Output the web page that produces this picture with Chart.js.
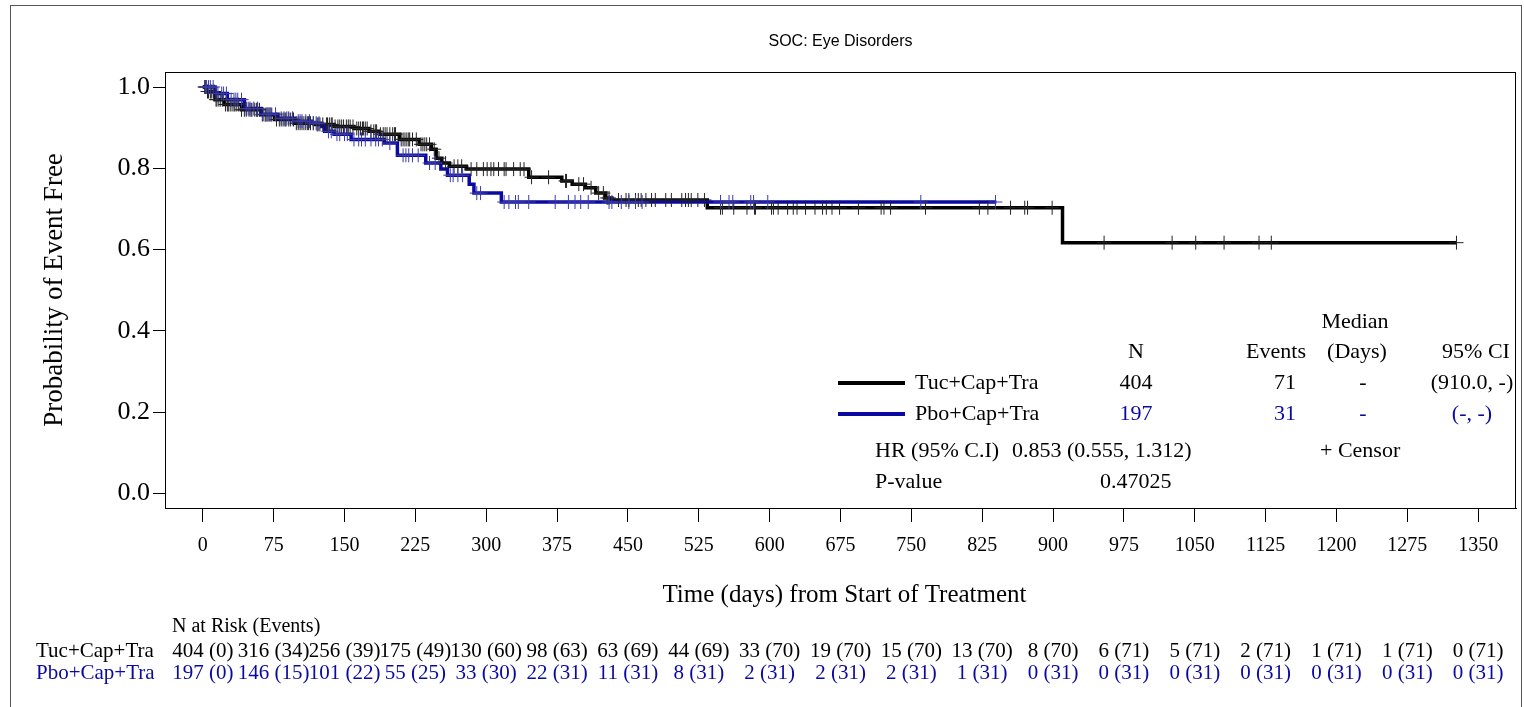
<!DOCTYPE html>
<html>
<head>
<meta charset="utf-8">
<script src="https://cdn.jsdelivr.net/npm/chart.js@4.4.0/dist/chart.umd.min.js"></script>
<style>
  html, body { margin: 0; padding: 0; background: #fff; }
</style>
</head>
<body>
<canvas id="km" width="1524" height="707"></canvas>
<script>
'use strict';

// axis ticks
const xTicks = [0, 75, 150, 225, 300, 375, 450, 525, 600, 675, 750, 825, 900, 975, 1050, 1125, 1200, 1275, 1350];
const yTicks = [0, 0.2, 0.4, 0.6, 0.8, 1.0];

const armNames = ['Tuc+Cap+Tra', 'Pbo+Cap+Tra'];

// Tuc+Cap+Tra KM curve (day, survival after step)
const tucTime = [0, 4, 13, 23, 41, 62, 76, 97, 118, 139, 160, 176, 187, 208, 229, 242, 247, 253, 261, 279, 345, 380, 391, 405, 416, 426, 433, 534, 910, 1327];
const tucSurv = [1.0, 0.989, 0.969, 0.957, 0.944, 0.932, 0.920, 0.911, 0.908, 0.903, 0.898, 0.891, 0.884, 0.871, 0.859, 0.847, 0.825, 0.813, 0.805, 0.798, 0.778, 0.769, 0.761, 0.752, 0.739, 0.727, 0.722, 0.703, 0.617, 0.617];
// Pbo+Cap+Tra KM curve
const pboTime = [0, 13, 26, 44, 62, 79, 97, 115, 126, 129, 139, 157, 192, 206, 236, 252, 259, 282, 287, 316, 840];
const pboSurv = [1.0, 0.984, 0.969, 0.947, 0.933, 0.923, 0.916, 0.911, 0.903, 0.891, 0.884, 0.871, 0.862, 0.832, 0.813, 0.798, 0.783, 0.761, 0.739, 0.717, 0.717];

// censored times
const tucCensor = [2, 3, 5, 6, 8, 9, 11, 12, 14, 15, 17, 19, 21, 24, 26, 27, 29, 31, 33, 34, 36, 38, 41, 44, 46, 49, 51, 52, 55, 57, 58, 60, 63, 66, 67, 69, 71, 73, 78, 81, 83, 85, 87, 88, 91, 93, 96, 99, 101, 103, 105, 107, 109, 111, 112, 114, 117, 121, 122, 124, 127, 131, 132, 134, 136, 137, 140, 143, 145, 147, 149, 152, 154, 156, 159, 163, 165, 167, 169, 170, 172, 174, 178, 181, 183, 184, 188, 191, 193, 195, 198, 201, 203, 204, 210, 212, 214, 216, 218, 219, 222, 226, 231, 233, 235, 237, 240, 245, 250, 257, 266, 270, 274,
  284, 290, 297, 301, 305, 308, 313, 319, 321, 329, 336, 340, 348, 366, 384, 385, 398, 403, 411, 419, 424, 428, 430, 440, 448, 451, 458, 461, 464, 469, 475, 479, 490, 496, 507, 511, 514, 517, 524, 531,
  548, 550, 562, 576, 584, 585, 602, 604, 609, 619, 625, 629, 638, 648, 656, 660, 666, 674, 694, 718, 721, 728, 765, 822, 831, 855, 870, 873, 899, 954, 1026, 1051, 1081, 1118, 1131, 1327];
const pboCensor = [3, 4, 6, 8, 11, 14, 16, 20, 22, 25, 30, 33, 35, 37, 41, 46, 48, 50, 54, 58, 64, 68, 70, 72, 77, 83, 86, 89, 91, 95, 101, 103, 105, 109, 113, 117, 120, 123, 133, 136, 142, 145, 150, 153, 160, 165, 168, 172, 178, 183, 186, 190, 198, 212, 215, 218, 222, 228, 240, 246, 262, 265, 270, 275, 290, 294,
  319, 324, 331, 334, 345, 373, 387, 394, 400, 408, 430, 433, 443, 451, 458, 465, 548, 557, 561, 580, 583, 598, 760, 839];

// summary table
const armN = [404, 197];
const armEvents = [71, 31];
const armMedian = ['-', '-'];
const armCI = ['(910.0, -)', '(-, -)'];
const hrText = '0.853 (0.555, 1.312)';
const pValue = '0.47025';

// number at risk (events) at each x tick
const tucRisk = [404, 316, 256, 175, 130, 98, 63, 44, 33, 19, 15, 13, 8, 6, 5, 2, 1, 1, 0];
const tucRiskEv = [0, 34, 39, 49, 60, 63, 69, 69, 70, 70, 70, 70, 70, 71, 71, 71, 71, 71, 71];
const pboRisk = [197, 146, 101, 55, 33, 22, 11, 8, 2, 2, 2, 1, 0, 0, 0, 0, 0, 0, 0];
const pboRiskEv = [0, 15, 22, 25, 30, 31, 31, 31, 31, 31, 31, 31, 31, 31, 31, 31, 31, 31, 31];

const BLACK = '#000000';
const BLUE = '#0a0aa0';
const SERIF = '"Liberation Serif", "Times New Roman", serif';
const SANS = '"Liberation Sans", Arial, sans-serif';

function survAt(times, survs, t) {
  let s = survs[0];
  for (let i = 0; i < times.length; i++) {
    if (times[i] <= t) s = survs[i];
  }
  return s;
}

function toPoints(times, survs) {
  return times.map((t, i) => ({x: t, y: survs[i]}));
}

function censorPoints(list, times, survs) {
  return list.map(t => ({x: t, y: survAt(times, survs, t)}));
}

function txt(ctx, s, x, y, align, size, color, family) {
  ctx.font = size + 'px ' + (family || SERIF);
  ctx.fillStyle = color || BLACK;
  ctx.textAlign = align;
  ctx.textBaseline = 'middle';
  ctx.fillText(s, x, y);
}

const decor = {
  id: 'decor',
  afterDraw(chart) {
    const ctx = chart.ctx;
    const a = chart.chartArea;
    const xs = chart.scales.x;
    ctx.save();

    // outer frame and plot box
    ctx.strokeStyle = '#555';
    ctx.lineWidth = 1;
    ctx.strokeRect(10.5, 5.5, 1511, 720);
    ctx.strokeStyle = BLACK;
    ctx.strokeRect(a.left + 0.5, a.top + 0.5, a.right - a.left - 1, a.bottom - a.top);

    const mid = (a.left + a.right) / 2;
    txt(ctx, 'SOC: Eye Disorders', mid, 42, 'center', 16, BLACK, SANS);

    // axis titles
    txt(ctx, 'Time (days) from Start of Treatment', mid + 4, 595, 'center', 25);
    ctx.save();
    ctx.translate(55, (a.top + a.bottom) / 2);
    ctx.rotate(-Math.PI / 2);
    txt(ctx, 'Probability of Event Free', 0, 0, 'center', 27);
    ctx.restore();

    // summary table in the plot
    const fs = 22;
    txt(ctx, 'Median', 1355, 322, 'center', fs);
    txt(ctx, 'N', 1136, 352, 'center', fs);
    txt(ctx, 'Events', 1276, 352, 'center', fs);
    txt(ctx, '(Days)', 1357, 352, 'center', fs);
    txt(ctx, '95% CI', 1476, 352, 'center', fs);
    const rowY = [383, 414];
    const colors = [BLACK, BLUE];
    for (let i = 0; i < 2; i++) {
      ctx.strokeStyle = colors[i];
      ctx.lineWidth = 4;
      ctx.beginPath();
      ctx.moveTo(838, rowY[i]);
      ctx.lineTo(905, rowY[i]);
      ctx.stroke();
      txt(ctx, armNames[i], 915, rowY[i], 'left', fs);
      txt(ctx, String(armN[i]), 1136, rowY[i], 'center', fs, colors[i]);
      txt(ctx, String(armEvents[i]), 1285, rowY[i], 'center', fs, colors[i]);
      txt(ctx, armMedian[i], 1363, rowY[i], 'center', fs, colors[i]);
      txt(ctx, armCI[i], 1472, rowY[i], 'center', fs, colors[i]);
    }
    txt(ctx, 'HR (95% C.I)', 875, 451, 'left', fs);
    txt(ctx, hrText, 1012, 451, 'left', fs);
    txt(ctx, '+ Censor', 1320, 451, 'left', fs);
    txt(ctx, 'P-value', 875, 482, 'left', fs);
    txt(ctx, pValue, 1100, 482, 'left', fs);

    // number at risk table
    txt(ctx, 'N at Risk (Events)', 172, 627, 'left', 20);
    txt(ctx, armNames[0], 36, 651, 'left', 21);
    txt(ctx, armNames[1], 36, 673, 'left', 21, BLUE);
    xTicks.forEach((t, i) => {
      const px = xs.getPixelForValue(t);
      txt(ctx, tucRisk[i] + ' (' + tucRiskEv[i] + ')', px, 651, 'center', 21);
      txt(ctx, pboRisk[i] + ' (' + pboRiskEv[i] + ')', px, 673, 'center', 21, BLUE);
    });
    ctx.restore();
  }
};

new Chart(document.getElementById('km').getContext('2d'), {
  type: 'line',
  data: {
    datasets: [{
      label: armNames[0],
      data: toPoints(tucTime, tucSurv),
      stepped: true,
      borderColor: BLACK,
      borderWidth: 3.5,
      pointRadius: 0,
      fill: false,
      order: 3
    }, {
      label: armNames[1],
      data: toPoints(pboTime, pboSurv),
      stepped: true,
      borderColor: BLUE,
      borderWidth: 3.5,
      pointRadius: 0,
      fill: false,
      order: 2
    }, {
      label: 'censor1',
      data: censorPoints(tucCensor, tucTime, tucSurv),
      showLine: false,
      pointStyle: 'cross',
      pointRadius: 7,
      pointBorderWidth: 1,
      pointBorderColor: '#222',
      order: 1
    }, {
      label: 'censor2',
      data: censorPoints(pboCensor, pboTime, pboSurv),
      showLine: false,
      pointStyle: 'cross',
      pointRadius: 7,
      pointBorderWidth: 1,
      pointBorderColor: '#3a3aaa',
      order: 0
    }]
  },
  options: {
    responsive: false,
    animation: false,
    layout: { padding: { left: 0, right: 4, top: 72, bottom: 139 } },
    plugins: { legend: { display: false }, tooltip: { enabled: false } },
    scales: {
      x: {
        type: 'linear',
        min: -40,
        max: 1390,
        afterBuildTicks: s => { s.ticks = xTicks.map(v => ({value: v})); },
        afterFit: s => { s.height = 60; },
        grid: { drawOnChartArea: false, drawTicks: true, tickLength: 14, color: BLACK },
        border: { display: true, color: BLACK },
        ticks: {
          padding: 12, color: BLACK, maxRotation: 0, autoSkip: false,
          font: { family: SERIF, size: 20 },
          callback: v => String(v)
        }
      },
      y: {
        type: 'linear',
        min: -0.036,
        max: 1.037,
        afterBuildTicks: s => { s.ticks = yTicks.map(v => ({value: v})); },
        afterFit: s => { s.width = 165; },
        grid: { drawOnChartArea: false, drawTicks: true, tickLength: 12, color: BLACK },
        border: { display: true, color: BLACK },
        ticks: {
          padding: 3, color: BLACK,
          font: { family: SERIF, size: 26 },
          callback: v => v.toFixed(1)
        }
      }
    }
  },
  plugins: [decor]
});
</script>
</body>
</html>
